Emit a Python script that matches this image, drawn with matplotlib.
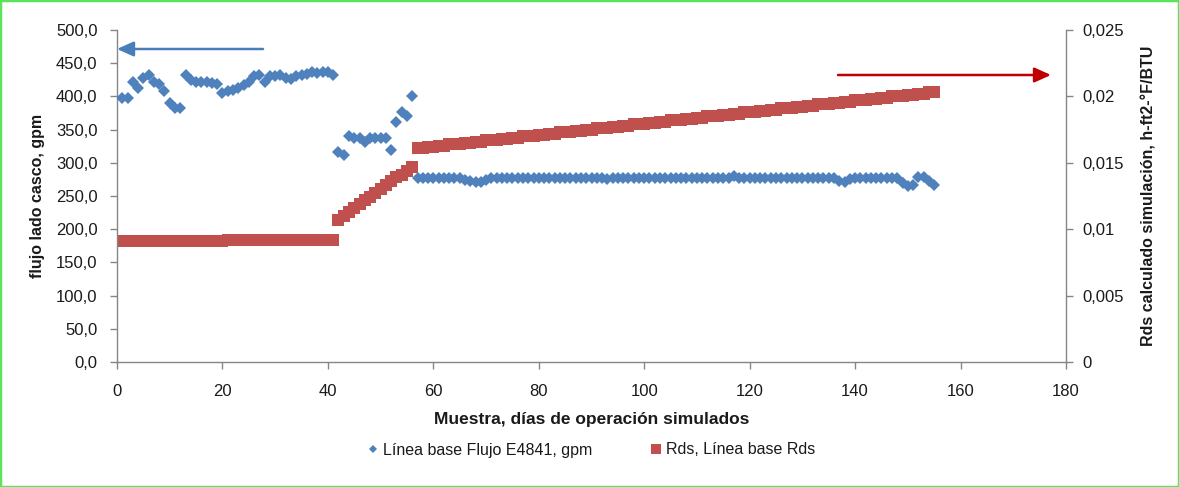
import matplotlib
matplotlib.use("Agg")
import matplotlib.pyplot as plt
from matplotlib.ticker import FuncFormatter
from matplotlib.patches import Rectangle
from matplotlib.lines import Line2D

plt.rcParams['font.family'] = ['Liberation Sans Narrow', 'Liberation Sans', 'DejaVu Sans']

# ---------------- data ----------------
days = list(range(1, 156))

flow_gpm = [
    397, 397, 421, 412, 427, 432, 421, 418, 408, 390,
    382, 382, 432, 424, 421, 421, 421, 420, 419, 405,
    408, 410, 413, 417, 422, 430, 432, 421, 430, 430,
    432, 428, 426, 430, 432, 433, 436, 435, 437, 436,
    432,
    316, 312, 340, 338, 337, 332, 338, 338, 337, 338,
    320, 362, 377, 370, 400,
    277, 277, 277, 277, 277, 277, 277, 277, 277, 274,
    272, 271, 271, 274, 277, 277, 277, 277, 277, 277,
    277, 277, 277, 277, 277, 277, 277, 277, 277, 277,
    277, 277, 277, 277, 277, 277, 275, 277, 277, 277,
    277, 277, 277, 277, 277, 277, 277, 277, 277, 277,
    277, 277, 277, 277, 277, 277, 277, 277, 277, 277,
    280, 277, 277, 277, 277, 277, 277, 277, 277, 277,
    277, 277, 277, 277, 277, 277, 277, 277, 277, 277,
    273, 271, 275, 277, 277, 277, 277, 277, 277, 277,
    277, 277, 270, 265, 266, 279, 278, 273, 267,
]

rds = [
    0.0091, 0.0091, 0.0091, 0.0091, 0.0091, 0.0091, 0.0091, 0.0091, 0.0091, 0.0091,
    0.0091, 0.0091, 0.0091, 0.0091, 0.0091, 0.0091, 0.0091, 0.0091, 0.0091, 0.0091,
    0.0092, 0.0092, 0.0092, 0.0092, 0.0092, 0.0092, 0.0092, 0.0092, 0.0092, 0.0092,
    0.0092, 0.0092, 0.0092, 0.0092, 0.0092, 0.0092, 0.0092, 0.0092, 0.0092, 0.0092,
    0.0092,
    0.0107, 0.0110, 0.0113, 0.0116, 0.0119, 0.0122, 0.0124, 0.0127, 0.0130, 0.0133,
    0.0136, 0.0139, 0.0141, 0.0144, 0.0147,
    0.0161, 0.0161, 0.0162, 0.0162, 0.0163, 0.0163, 0.0164, 0.0164, 0.0164, 0.0165,
    0.0165, 0.0166, 0.0166, 0.0167, 0.0167, 0.0167, 0.0168, 0.0168, 0.0169, 0.0169,
    0.0170, 0.0170, 0.0170, 0.0171, 0.0171, 0.0172, 0.0172, 0.0173, 0.0173, 0.0173,
    0.0174, 0.0174, 0.0175, 0.0175, 0.0176, 0.0176, 0.0176, 0.0177, 0.0177, 0.0178,
    0.0178, 0.0179, 0.0179, 0.0179, 0.0180, 0.0180, 0.0181, 0.0181, 0.0182, 0.0182,
    0.0182, 0.0183, 0.0183, 0.0184, 0.0184, 0.0185, 0.0185, 0.0185, 0.0186, 0.0186,
    0.0187, 0.0187, 0.0188, 0.0188, 0.0188, 0.0189, 0.0189, 0.0190, 0.0190, 0.0191,
    0.0191, 0.0191, 0.0192, 0.0192, 0.0193, 0.0193, 0.0194, 0.0194, 0.0194, 0.0195,
    0.0195, 0.0196, 0.0196, 0.0197, 0.0197, 0.0197, 0.0198, 0.0198, 0.0199, 0.0199,
    0.0200, 0.0200, 0.0200, 0.0201, 0.0201, 0.0202, 0.0202, 0.0203, 0.0203,
]

x_ticks = [0, 20, 40, 60, 80, 100, 120, 140, 160, 180]
left_ticks = [0, 50, 100, 150, 200, 250, 300, 350, 400, 450, 500]
right_ticks = [0, 0.005, 0.01, 0.015, 0.02, 0.025]

label_flow = "Línea base Flujo E4841, gpm"
label_rds = "Rds, Línea base Rds"
xlabel = "Muestra, días de operación simulados"
ylabel_left = "flujo lado casco, gpm"
ylabel_right = "Rds calculado simulación, h-ft2-°F/BTU"

# ---------------- figure ----------------
W, H, DPI = 1179, 487, 100
fig = plt.figure(figsize=(W / DPI, H / DPI), dpi=DPI)
fig.patch.set_facecolor('white')

def fx(px):
    return px / W

def fy(py):
    return 1 - py / H

ax = fig.add_axes([fx(117), fy(362), fx(1066) - fx(117), fy(30) - fy(362)])
ax2 = ax.twinx()

blue = '#4F81BD'
red = '#C0504D'
grey = '#868686'
txt = '#1a1a1a'

ax2.plot(days, rds, linestyle='none', marker='s', markersize=8.2,
         color=red, markeredgewidth=0, zorder=2)
ax.plot(days, flow_gpm, linestyle='none', marker='D', markersize=6.6,
        color=blue, markeredgewidth=0, zorder=3)
ax.set_zorder(ax2.get_zorder() + 1)
ax.patch.set_visible(False)

ax.set_xlim(0, 180)
ax.set_ylim(0, 500)
ax2.set_ylim(0, 0.025)
ax.set_xticks(x_ticks)
ax.set_yticks(left_ticks)
ax2.set_yticks(right_ticks)

ax.yaxis.set_major_formatter(FuncFormatter(lambda v, p: f"{v:.1f}".replace('.', ',')))
def rfmt(v, p):
    if abs(v) < 1e-12:
        return "0"
    s = f"{v:.3f}".rstrip('0')
    return s.replace('.', ',')
ax2.yaxis.set_major_formatter(FuncFormatter(rfmt))

for a in (ax, ax2):
    a.spines['top'].set_visible(False)
    for side in ('left', 'right', 'bottom'):
        a.spines[side].set_color(grey)
        a.spines[side].set_linewidth(1.0)
    a.tick_params(axis='both', colors=grey, labelcolor=txt, labelsize=12,
                  length=5, width=1, direction='out')
ax.spines['right'].set_visible(False)
ax2.spines['left'].set_visible(False)
ax2.spines['bottom'].set_visible(False)
ax.tick_params(axis='x', pad=11)
ax.tick_params(axis='y', pad=9)
ax2.tick_params(axis='y', pad=7)

ax.set_xlabel(xlabel, fontsize=12.5, fontweight='bold', color=txt, labelpad=9)
ax.set_ylabel(ylabel_left, fontsize=11.5, fontweight='bold', color=txt, labelpad=8)
ax2.set_ylabel(ylabel_right, fontsize=11.5, fontweight='bold', color=txt, labelpad=12)

handles = [
    Line2D([], [], linestyle='none', marker='D', markersize=4.5, color=blue,
           markeredgewidth=0, label=label_flow),
    Line2D([], [], linestyle='none', marker='s', markersize=7, color=red,
           markeredgewidth=0, label=label_rds),
]
fig.legend(handles=handles, loc='center', bbox_to_anchor=(fx(590), fy(450)),
           ncol=2, frameon=False, fontsize=11.5, handletextpad=0.1,
           columnspacing=3.5, handlelength=1.0, labelcolor=txt)

fig.patches.append(Rectangle((0, 0), 1, 1, transform=fig.transFigure, fill=False,
                             edgecolor='#5BE35B', linewidth=2.5, zorder=0))
ax.annotate('', xy=(fx(117), fy(49)), xytext=(fx(263), fy(49)),
            xycoords='figure fraction', textcoords='figure fraction',
            arrowprops=dict(arrowstyle='-|>,head_length=1.0,head_width=0.45',
                            color='#4A7EBB', lw=1.8, shrinkA=0, shrinkB=0))
ax.annotate('', xy=(fx(1051), fy(75)), xytext=(fx(838), fy(75)),
            xycoords='figure fraction', textcoords='figure fraction',
            arrowprops=dict(arrowstyle='-|>,head_length=1.0,head_width=0.45',
                            color='#C00000', lw=1.8, shrinkA=0, shrinkB=0))

fig.savefig('out.png', dpi=DPI)
